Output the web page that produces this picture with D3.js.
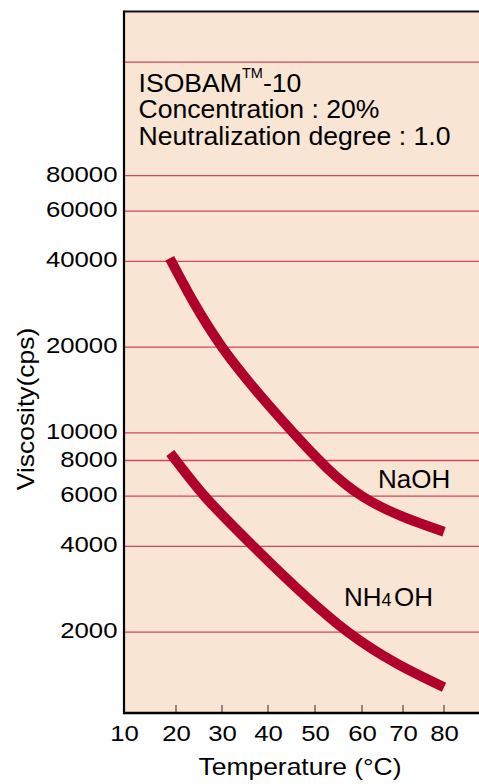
<!DOCTYPE html>
<html>
<head>
<meta charset="utf-8">
<script src="https://cdn.jsdelivr.net/npm/d3@7"></script>
<style>
  html, body { margin: 0; padding: 0; background: #ffffff; }
  svg { display: block; font-family: "Liberation Sans", Arial, Helvetica, sans-serif; }
</style>
</head>
<body>
<svg id="chart" width="479" height="784"></svg>
<script>
// ---- data ----
const xTicks = [10, 20, 30, 40, 50, 60, 70, 80];
const yGrid = [2000, 4000, 6000, 8000, 10000, 20000, 40000, 60000, 80000, 200000];
const yTickLabels = [2000, 4000, 6000, 8000, 10000, 20000, 40000, 60000, 80000];

const naohTemp = [18.8, 30, 45.4, 60, 80];
const naohVisc = [41000, 20000, 10000, 6000, 4500];

const nh4Temp = [18.9, 26.2, 36.8, 57, 80];
const nh4Visc = [8500, 6000, 4000, 2000, 1280];

const infoLines = ["Concentration : 20%", "Neutralization degree : 1.0"];

// ---- layout ----
const mLeft = 124, mTop = 12, mRight = 479, mBottom = 713;
const svg = d3.select("#chart");

// hand-drawn temperature axis: piecewise linear scale
const x = d3.scaleLinear()
  .domain(xTicks)
  .range([0, 52, 98, 144, 191, 238, 279, 320].map(d => mLeft + d));
const y = d3.scaleLog().domain([1040, 300000]).range([mBottom, mTop]);

// background
svg.append("rect").attr("x", mLeft).attr("y", mTop)
  .attr("width", mRight - mLeft).attr("height", mBottom - mTop)
  .attr("fill", "#f9e5d4");

// gridlines
svg.append("g").selectAll("line").data(yGrid).join("line")
  .attr("x1", mLeft).attr("x2", mRight)
  .attr("y1", d => y(d)).attr("y2", d => y(d))
  .attr("stroke", "#d4455f").attr("stroke-width", 1.3);

// curves
const line = d3.line().x(d => x(d[0])).y(d => y(d[1])).curve(d3.curveNatural);
const series = [
  d3.zip(naohTemp, naohVisc),
  d3.zip(nh4Temp, nh4Visc)
];
svg.append("g").selectAll("path").data(series).join("path")
  .attr("d", line)
  .attr("fill", "none")
  .attr("stroke", "#b0002c")
  .attr("stroke-width", 10)
  .attr("stroke-linecap", "butt");

// top frame line
svg.append("line").attr("x1", mLeft).attr("x2", mRight).attr("y1", mTop - 0.5).attr("y2", mTop - 0.5)
  .attr("stroke", "#111").attr("stroke-width", 1.8);

// x axis
const xAxis = d3.axisBottom(x).tickValues(xTicks).tickSize(0).tickPadding(0).tickFormat(d3.format("d"));
const gx = svg.append("g").attr("transform", `translate(0,${mBottom})`).call(xAxis);
gx.select(".domain").remove();
gx.selectAll("text")
  .attr("y", 0).attr("dy", 0)
  .attr("font-size", 22).attr("fill", "#000")
  .attr("font-family", "Liberation Sans, Arial, sans-serif")
  .attr("transform", "translate(0,28) scale(1.17,1)");
// inward tick marks
svg.append("g").selectAll("line").data(xTicks.slice(1)).join("line")
  .attr("x1", d => x(d)).attr("x2", d => x(d))
  .attr("y1", mBottom).attr("y2", mBottom - 8)
  .attr("stroke", "#555").attr("stroke-width", 1.3);

// y axis labels
const yAxis = d3.axisLeft(y).tickValues(yTickLabels).tickSize(0).tickPadding(0).tickFormat(d3.format("d"));
const gy = svg.append("g").attr("transform", `translate(${mLeft},0)`).call(yAxis);
gy.select(".domain").remove();
gy.selectAll("text")
  .attr("x", 0).attr("dy", 0)
  .attr("font-size", 22).attr("fill", "#000")
  .attr("font-family", "Liberation Sans, Arial, sans-serif")
  .attr("transform", "translate(-6.5,5.5) scale(1.17,1)");

// left and bottom frame lines
svg.append("line").attr("x1", mLeft).attr("x2", mLeft).attr("y1", mTop - 1.4).attr("y2", mBottom + 1.2)
  .attr("stroke", "#000").attr("stroke-width", 2.2);
svg.append("line").attr("x1", mLeft).attr("x2", mRight).attr("y1", mBottom).attr("y2", mBottom)
  .attr("stroke", "#000").attr("stroke-width", 2.4);

// axis titles
svg.append("text")
  .attr("transform", "translate(300,775) scale(1.15,1)")
  .attr("text-anchor", "middle").attr("font-size", 23).attr("fill", "#000")
  .text("Temperature (°C)");
svg.append("text")
  .attr("transform", "translate(34,409) rotate(-90) scale(1.15,1)")
  .attr("text-anchor", "middle").attr("font-size", 23).attr("fill", "#000")
  .text("Viscosity(cps)");

// annotation
const t0 = svg.append("text").attr("x", 138.5).attr("y", 91.7).attr("font-size", 26.6).attr("fill", "#000");
t0.append("tspan").text("ISOBAM");
t0.append("tspan").attr("font-size", 14.5).attr("dy", -13.5).text("TM");
t0.append("tspan").attr("dy", 13.5).text("-10");
svg.append("g").selectAll("text").data(infoLines).join("text")
  .attr("x", 138.5).attr("y", (d, i) => 118.3 + i * 26.7)
  .attr("font-size", 26.6).attr("fill", "#000")
  .text(d => d);

// series labels
svg.append("text").attr("x", 378).attr("y", 488).attr("font-size", 26).attr("fill", "#000").text("NaOH");
const t1 = svg.append("text").attr("x", 344).attr("y", 605.7).attr("font-size", 26).attr("fill", "#000");
t1.append("tspan").text("NH");
t1.append("tspan").attr("font-size", 18).text("4");
t1.append("tspan").attr("dx", 2.5).text("OH");
</script>
</body>
</html>
